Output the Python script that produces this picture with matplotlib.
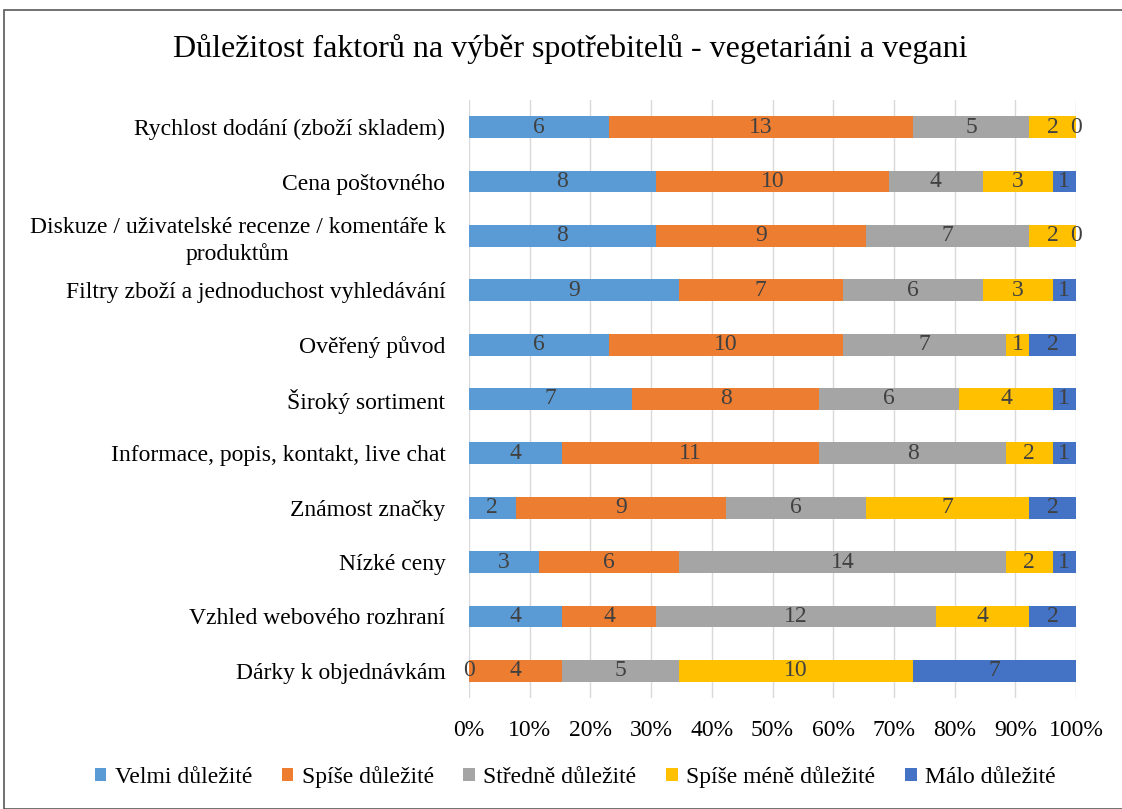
import numpy as np
import matplotlib.pyplot as plt
from matplotlib.patches import Rectangle

plt.rcParams['font.family'] = ['Liberation Serif', 'DejaVu Serif']

categories = [
    "Rychlost dodání (zboží skladem)",
    "Cena poštovného",
    "Diskuze / uživatelské recenze / komentáře k\nproduktům",
    "Filtry zboží a jednoduchost vyhledávání",
    "Ověřený původ",
    "Široký sortiment",
    "Informace, popis, kontakt, live chat",
    "Známost značky",
    "Nízké ceny",
    "Vzhled webového rozhraní",
    "Dárky k objednávkám",
]
series_names = ["Velmi důležité", "Spíše důležité", "Středně důležité",
                "Spíše méně důležité", "Málo důležité"]
velmi = [6, 8, 8, 9, 6, 7, 4, 2, 3, 4, 0]
spise = [13, 10, 9, 7, 10, 8, 11, 9, 6, 4, 4]
stredne = [5, 4, 7, 6, 7, 6, 8, 6, 14, 12, 5]
mene = [2, 3, 2, 3, 1, 4, 2, 7, 2, 4, 10]
malo = [0, 1, 0, 1, 2, 1, 1, 2, 1, 2, 7]
colors = ["#5B9BD5", "#ED7D31", "#A5A5A5", "#FFC000", "#4472C4"]

data = np.array([velmi, spise, stredne, mene, malo], dtype=float)
totals = data.sum(axis=0)
pct = data / totals * 100

fs = 17

fig = plt.figure(figsize=(11.22, 8.09), dpi=100)
ax = fig.add_axes([469 / 1122, 1 - 698 / 809, (1076 - 469) / 1122, (698 - 100) / 809])

y = np.arange(len(categories))
left = np.zeros(len(categories))
for i in range(5):
    bars = ax.barh(y, pct[i], left=left, height=0.4, color=colors[i],
                   label=series_names[i], zorder=2)
    ax.bar_label(bars, labels=[str(int(v)) for v in data[i]], label_type='center',
                 color="#404040", fontsize=fs)
    left += pct[i]

ax.set_xlim(0, 100)
ax.set_ylim(len(categories) - 0.5, -0.5)
ax.set_yticks(y)
ax.set_yticklabels(categories, fontsize=fs)
for t in ax.get_yticklabels():
    t.set_multialignment('center')
    t.set_linespacing(1.3)
ax.set_xticks(np.arange(0, 101, 10))
ax.set_xticklabels([f"{v}%" for v in range(0, 101, 10)], fontsize=fs)
ax.tick_params(axis='both', length=0)
ax.tick_params(axis='y', pad=17)
ax.tick_params(axis='x', pad=16)
ax.xaxis.grid(True, color="#D9D9D9", linewidth=1, zorder=0)
ax.set_axisbelow(True)
for s in ax.spines.values():
    s.set_visible(False)

fig.text(570 / 1122, 1 - 49 / 809, "Důležitost faktorů na výběr spotřebitelů - vegetariáni a vegani",
         ha='center', va='center', fontsize=23)

fig.legend(loc='center', bbox_to_anchor=(575 / 1122, 1 - 777 / 809), ncol=5, frameon=False,
           fontsize=fs, handlelength=0.5, handleheight=0.5, handletextpad=0.35,
           columnspacing=1.25)

fig.patches.append(Rectangle((4 / 1122, 0), 1.2, 1 - 10 / 809, transform=fig.transFigure,
                             fill=False, edgecolor="#595959", linewidth=1.2))

fig.savefig("out.png", dpi=100)
